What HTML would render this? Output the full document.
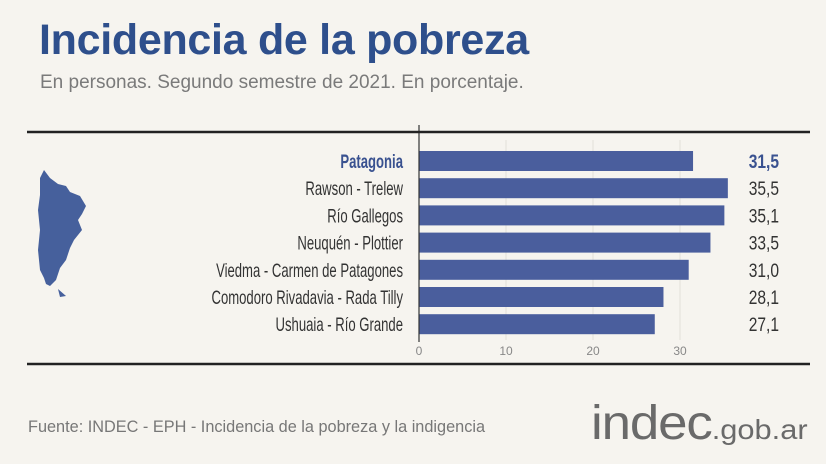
<!DOCTYPE html>
<html><head><meta charset="utf-8"><style>
body{margin:0;background:#f5f3ee;}
#c{position:relative;width:826px;height:464px;overflow:hidden;background:#f6f4ef;font-family:"Liberation Sans",sans-serif;}
.t{position:absolute;white-space:nowrap;}
</style></head><body>
<div id="c">
<div class="t" style="left:39px;top:16px;font-size:43px;font-weight:bold;color:#2e4f8c;letter-spacing:-0.3px;">Incidencia de la pobreza</div>
<div class="t" style="left:40px;top:72px;font-size:19px;color:#7a7a7a;">En personas. Segundo semestre de 2021. En porcentaje.</div>
<svg id="s" width="826" height="464" style="position:absolute;left:0;top:0"></svg>
<div class="t" style="left:28px;top:418px;font-size:16.3px;color:#777;">Fuente: INDEC - EPH - Incidencia de la pobreza y la indigencia</div>
<div class="t" style="left:591px;top:396px;color:#6a6a6a;transform:scaleX(1.1);transform-origin:left;"><span style="font-size:48px;letter-spacing:-1px;">indec</span><span style="font-size:28px;">.gob.ar</span></div>
</div>
<script>
const categories=["Patagonia","Rawson - Trelew","Río Gallegos","Neuquén - Plottier","Viedma - Carmen de Patagones","Comodoro Rivadavia - Rada Tilly","Ushuaia - Río Grande"];
const values=[31.5,35.5,35.1,33.5,31.0,28.1,27.1];
const labels=["31,5","35,5","35,1","33,5","31,0","28,1","27,1"];
const ticks=[0,10,20,30];
const NS="http://www.w3.org/2000/svg";
const s=document.getElementById('s');
const x=v=>419+v*8.7;
const y=i=>161+i*27.2;
function el(t,a,txt){const e=document.createElementNS(NS,t);for(const k in a)e.setAttribute(k,a[k]);if(txt!==undefined)e.textContent=txt;s.appendChild(e);return e;}
let m=el('path',{d:"M40 178 L44 170 L50 178 L58 184 L66 186 L70 192 L80 196 L86 206 L82 214 L78 220 L82 230 L74 240 L70 248 L66 260 L60 268 L56 280 L50 286 L46 284 L44 278 L40 270 L38 250 L40 230 L38 210 L40 195 Z",fill:"#46609c"});


let m2=el('path',{d:"M58 289 L66 296 L60 297 Z",fill:"#46609c"});


ticks.forEach(t=>{if(t>0){const g=el('line',{x1:x(t),x2:x(t),y1:140,y2:340,stroke:"#e2e0da","stroke-width":1});}
const tl=el('text',{x:x(t),y:355,"font-size":12,fill:"#888","text-anchor":"middle","font-family":"Liberation Sans"},t);

});
categories.forEach((c,i)=>{
const b=el('rect',{x:x(0),y:y(i)-10,width:x(values[i])-x(0),height:20,fill:"#4a5e9d"});


const first=i===0;
const l=el('text',{x:0,y:y(i)+7,"font-size":19,fill:first?"#3a5290":"#333","font-weight":first?"bold":"normal","text-anchor":"end","font-family":"Liberation Sans",transform:"translate(403 0) scale(0.69 1)"},c);


const v=el('text',{x:0,y:y(i)+7,"font-size":19,fill:first?"#3a5290":"#333","font-weight":first?"bold":"normal","text-anchor":"end","font-family":"Liberation Sans",transform:"translate(779 0) scale(0.82 1)"},labels[i]);


});
const ax=el('line',{x1:419,x2:419,y1:125,y2:342,stroke:"#333","stroke-width":1.2});


const tl1=el('line',{x1:27,x2:810,y1:132,y2:132,stroke:"#222","stroke-width":2.5});


const bl=el('line',{x1:27,x2:810,y1:364,y2:364,stroke:"#222","stroke-width":2.5});


</script>
</body></html>
